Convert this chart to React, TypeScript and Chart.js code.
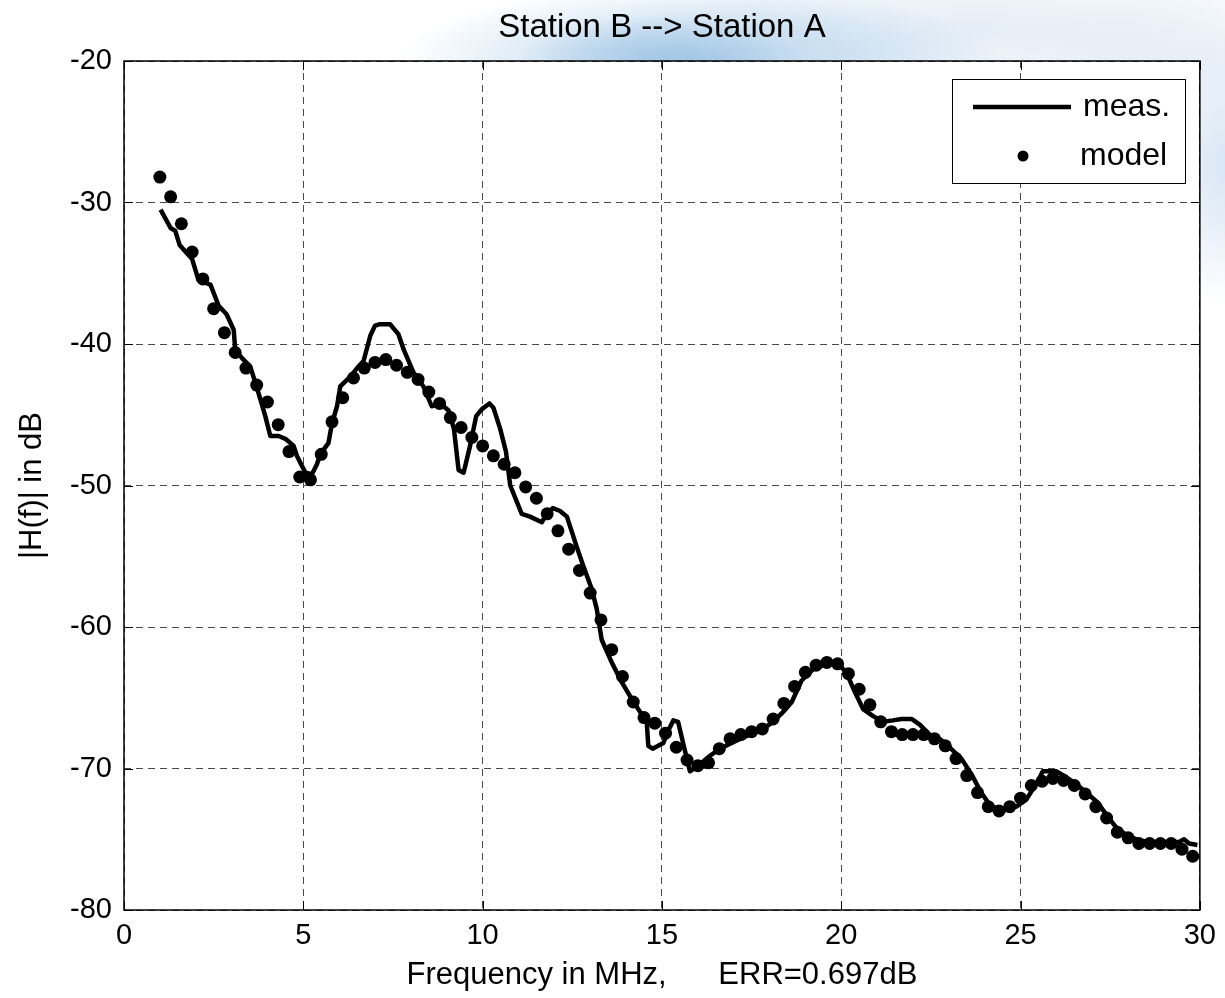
import React, { useEffect, useRef } from "react";
import { Chart, registerables } from "chart.js";

Chart.register(...registerables);

const TITLE = "Station B --> Station A";
const X_LABEL = "Frequency in MHz,      ERR=0.697dB";
const Y_LABEL = "|H(f)| in dB";
const LEGEND_LABELS = ["meas.", "model"];
const X_TICKS = [0, 5, 10, 15, 20, 25, 30];
const Y_TICKS = [-80, -70, -60, -50, -40, -30, -20];

const measFreq = [
  1.02, 1.3, 1.43, 1.55, 1.76, 1.9, 2.08, 2.41, 2.64, 2.86, 3.06, 3.1, 3.29, 3.52, 3.66, 3.8, 3.94, 4.08,
  4.31, 4.5, 4.73, 4.82, 4.96, 5.06, 5.24, 5.38, 5.47, 5.7, 5.8, 5.94, 6.03, 6.31, 6.5, 6.68, 6.87, 7.0,
  7.14, 7.42, 7.65, 7.8, 8.07, 8.35, 8.58, 8.82, 9.05, 9.2, 9.33, 9.47, 9.65, 9.82, 9.98, 10.19, 10.3,
  10.49, 10.65, 10.77, 11.09, 11.32, 11.65, 11.74, 11.96, 12.16, 12.35, 12.62, 12.81, 13.04, 13.18, 13.32,
  13.6, 13.88, 14.16, 14.39, 14.57, 14.62, 14.74, 15.04, 15.18, 15.32, 15.45, 15.59, 15.78, 16.01, 16.34,
  16.62, 16.94, 17.27, 17.54, 17.82, 18.1, 18.38, 18.62, 18.89, 19.21, 19.59, 19.91, 20.14, 20.38, 20.61,
  20.89, 21.16, 21.44, 21.68, 21.96, 22.19, 22.46, 22.74, 23.02, 23.35, 23.63, 23.9, 24.15, 24.51, 24.88,
  25.16, 25.48, 25.62, 26.0, 26.27, 26.55, 26.83, 27.15, 27.43, 27.71, 28.03, 28.31, 28.68, 29.05, 29.42,
  29.56, 29.7, 29.93,
];
const measDb = [
  -30.5, -31.8, -32.0, -33.0, -33.6, -34.0, -35.5, -35.8, -37.3, -37.9, -39.0, -40.4, -41.0, -41.6, -42.7,
  -43.9, -45.1, -46.5, -46.5, -46.7, -47.2, -47.9, -48.6, -49.1, -49.2, -48.5, -47.8, -47.0, -45.6, -44.4,
  -43.0, -42.3, -41.7, -41.2, -39.4, -38.7, -38.6, -38.6, -39.3, -40.4, -42.0, -43.0, -44.4, -44.2, -44.7,
  -46.0, -48.9, -49.1, -47.2, -45.1, -44.6, -44.2, -44.5, -46.0, -47.6, -50.0, -52.0, -52.2, -52.6, -52.2,
  -51.6, -51.8, -52.2, -54.3, -55.7, -57.3, -58.7, -60.9, -62.5, -63.9, -65.1, -66.0, -66.5, -68.4, -68.6,
  -68.2, -67.3, -66.6, -66.7, -68.2, -70.2, -69.8, -69.1, -68.6, -68.2, -67.8, -67.5, -67.2, -66.7, -66.0,
  -65.3, -63.8, -63.0, -62.6, -62.6, -63.2, -64.6, -65.8, -66.3, -66.7, -66.6, -66.5, -66.5, -66.9, -67.6,
  -67.9, -68.5, -69.3, -70.4, -71.7, -72.6, -73.0, -72.7, -72.2, -70.9, -70.2, -70.2, -70.6, -71.1, -71.7,
  -72.4, -73.4, -74.3, -74.8, -75.1, -75.2, -75.2, -75.2, -75.0, -75.3, -75.4,
];

const modelFreq = [
  1.0, 1.3, 1.6, 1.9, 2.2, 2.5, 2.8, 3.1, 3.4, 3.7,
  4.0, 4.3, 4.6, 4.9, 5.2, 5.5, 5.8, 6.1, 6.4, 6.7,
  7.0, 7.3, 7.6, 7.9, 8.2, 8.5, 8.8, 9.1, 9.4, 9.7,
  10.0, 10.3, 10.6, 10.9, 11.2, 11.5, 11.8, 12.1, 12.4, 12.7,
  13.0, 13.3, 13.6, 13.9, 14.2, 14.5, 14.8, 15.1, 15.4, 15.7,
  16.0, 16.3, 16.6, 16.9, 17.2, 17.5, 17.8, 18.1, 18.4, 18.7,
  19.0, 19.3, 19.6, 19.9, 20.2, 20.5, 20.8, 21.1, 21.4, 21.7,
  22.0, 22.3, 22.6, 22.9, 23.2, 23.5, 23.8, 24.1, 24.4, 24.7,
  25.0, 25.3, 25.6, 25.9, 26.2, 26.5, 26.8, 27.1, 27.4, 27.7,
  28.0, 28.3, 28.6, 28.9, 29.2, 29.5, 29.8,
];
const modelDb = [
  -28.2, -29.6, -31.5, -33.5, -35.4, -37.5, -39.2, -40.6, -41.7, -42.9,
  -44.1, -45.7, -47.6, -49.4, -49.6, -47.8, -45.5, -43.8, -42.4, -41.7,
  -41.3, -41.1, -41.5, -42.0, -42.5, -43.4, -44.2, -45.2, -45.9, -46.6,
  -47.2, -47.9, -48.5, -49.1, -50.1, -50.9, -52.0, -53.2, -54.5, -56.0,
  -57.6, -59.5, -61.6, -63.5, -65.3, -66.4, -66.8, -67.5, -68.5, -69.4,
  -69.8, -69.6, -68.6, -67.9, -67.6, -67.4, -67.2, -66.5, -65.4, -64.2,
  -63.2, -62.7, -62.5, -62.6, -63.3, -64.4, -65.5, -66.7, -67.4, -67.6,
  -67.6, -67.6, -67.9, -68.4, -69.3, -70.5, -71.7, -72.7, -73.0, -72.7,
  -72.1, -71.2, -70.9, -70.7, -70.85, -71.2, -71.8, -72.7, -73.5, -74.5,
  -74.9, -75.3, -75.3, -75.3, -75.3, -75.7, -76.2,
];

const FONT_FAMILY = '"Liberation Sans", Arial, Helvetica, sans-serif';
const TICK_SIZE = 29;
const LABEL_SIZE = 31;
const TITLE_SIZE = 33;
const LEGEND_SIZE = 32;

const backgroundPlugin = {
  id: "bgCloud",
  beforeDraw(chart: any) {
    const { ctx, width, height, chartArea } = chart;
    ctx.save();
    ctx.fillStyle = "#ffffff";
    ctx.fillRect(0, 0, width, height);
    const blob = (cx: number, cy: number, rx: number, ry: number, rgb: string, a: number) => {
      ctx.save();
      ctx.translate(cx, cy);
      ctx.scale(rx / ry, 1);
      const g = ctx.createRadialGradient(0, 0, 0, 0, 0, ry);
      g.addColorStop(0, `rgba(${rgb},${a})`);
      g.addColorStop(0.5, `rgba(${rgb},${a * 0.55})`);
      g.addColorStop(1, `rgba(${rgb},0)`);
      ctx.fillStyle = g;
      ctx.fillRect(-ry * 6, -ry * 2, ry * 12, ry * 4);
      ctx.restore();
    };
    blob(980, 30, 380, 85, "212,226,241", 0.6);
    blob(700, 60, 300, 75, "160,198,230", 0.75);
    blob(660, 60, 140, 45, "135,182,222", 0.5);
    blob(1225, 165, 80, 140, "195,216,238", 0.65);
    blob(1160, 60, 160, 70, "218,230,243", 0.5);
    ctx.fillStyle = "#ffffff";
    ctx.fillRect(chartArea.left, chartArea.top, chartArea.right - chartArea.left, chartArea.bottom - chartArea.top);
    ctx.restore();
  },
};

const framePlugin = {
  id: "frameLegend",
  afterDraw(chart: any) {
    const { ctx, chartArea: ca, scales } = chart;
    ctx.save();
    ctx.strokeStyle = "#000";
    ctx.lineWidth = 1;
    const tl = 9;
    ctx.beginPath();
    X_TICKS.forEach((v) => {
      const x = Math.round(scales.x.getPixelForValue(v)) + 0.5;
      ctx.moveTo(x, ca.bottom);
      ctx.lineTo(x, ca.bottom - tl);
      ctx.moveTo(x, ca.top);
      ctx.lineTo(x, ca.top + tl);
    });
    Y_TICKS.forEach((v) => {
      const y = Math.round(scales.y.getPixelForValue(v)) + 0.5;
      ctx.moveTo(ca.left, y);
      ctx.lineTo(ca.left + tl, y);
      ctx.moveTo(ca.right, y);
      ctx.lineTo(ca.right - tl, y);
    });
    ctx.stroke();
    ctx.lineWidth = 1.5;
    ctx.strokeRect(ca.left, ca.top, ca.right - ca.left, ca.bottom - ca.top);

    // legend
    const lx = 952.5, ly = 79.5, lw = 233, lh = 104;
    ctx.fillStyle = "#fff";
    ctx.fillRect(lx, ly, lw, lh);
    ctx.lineWidth = 1;
    ctx.strokeStyle = "#000";
    ctx.strokeRect(lx, ly, lw, lh);
    ctx.lineWidth = 4.5;
    ctx.beginPath();
    ctx.moveTo(973, 107);
    ctx.lineTo(1071, 107);
    ctx.stroke();
    ctx.fillStyle = "#000";
    ctx.beginPath();
    ctx.arc(1023, 156, 5.5, 0, Math.PI * 2);
    ctx.fill();
    ctx.font = `${LEGEND_SIZE}px ${FONT_FAMILY}`;
    ctx.textAlign = "left";
    ctx.textBaseline = "middle";
    ctx.fillText(LEGEND_LABELS[0], 1083, 107);
    ctx.fillText(LEGEND_LABELS[1], 1080, 156);
    ctx.restore();
  },
};

export default function App() {
  const canvasRef = useRef<HTMLCanvasElement | null>(null);

  useEffect(() => {
    document.body.style.margin = "0";
    const canvas = canvasRef.current;
    if (!canvas) return;
    const tickFont = { family: FONT_FAMILY, size: TICK_SIZE, weight: "normal" as const };
    const labelFont = { family: FONT_FAMILY, size: LABEL_SIZE, weight: "normal" as const };
    const titleFont = { family: FONT_FAMILY, size: TITLE_SIZE, weight: "normal" as const };
    const chart = new Chart(canvas, {
      type: "line",
      data: {
        datasets: [
          {
            label: LEGEND_LABELS[0],
            data: measFreq.map((f, i) => ({ x: f, y: measDb[i] })),
            borderColor: "#000",
            backgroundColor: "#000",
            borderWidth: 4.5,
            pointRadius: 0,
            tension: 0,
            fill: false,
            borderJoinStyle: "round",
            order: 2,
          },
          {
            label: LEGEND_LABELS[1],
            data: modelFreq.map((f, i) => ({ x: f, y: modelDb[i] })),
            showLine: false,
            borderColor: "#000",
            backgroundColor: "#000",
            pointBackgroundColor: "#000",
            pointBorderWidth: 0,
            pointRadius: 6.5,
            pointStyle: "circle",
            order: 1,
          },
        ],
      },
      options: {
        responsive: false,
        animation: false,
        devicePixelRatio: 1,
        clip: false as any,
        events: [],
        layout: { padding: { left: 0, right: 25, top: 0, bottom: 0 } },
        plugins: {
          legend: { display: false },
          tooltip: { enabled: false },
          title: {
            display: true,
            text: TITLE,
            color: "#000",
            fullSize: false,
            font: titleFont,
            padding: { top: 8, bottom: 13.4 },
          },
        },
        scales: {
          x: {
            type: "linear",
            min: 0,
            max: 30,
            afterBuildTicks: (s: any) => {
              s.ticks = X_TICKS.map((v) => ({ value: v }));
            },
            afterFit: (s: any) => {
              s.height = 88;
            },
            grid: { color: "#4a4a4a", lineWidth: 1, drawTicks: false },
            border: { display: false, dash: [7, 5] },
            ticks: { color: "#000", font: tickFont, padding: 9, maxRotation: 0, autoSkip: false },
            title: { display: true, text: X_LABEL, color: "#000", font: labelFont, padding: { top: 0, bottom: 4 } },
          },
          y: {
            type: "linear",
            min: -80,
            max: -20,
            afterBuildTicks: (s: any) => {
              s.ticks = Y_TICKS.map((v) => ({ value: v }));
            },
            afterFit: (s: any) => {
              s.width = 124;
            },
            grid: { color: "#4a4a4a", lineWidth: 1, drawTicks: false },
            border: { display: false, dash: [7, 5] },
            ticks: { color: "#000", font: tickFont, padding: 12, autoSkip: false },
            title: { display: true, text: Y_LABEL, color: "#000", font: labelFont, padding: { top: 14, bottom: 0 } },
          },
        },
      } as any,
      plugins: [backgroundPlugin, framePlugin],
    });
    return () => chart.destroy();
  }, []);

  return (
    <div style={{ position: "fixed", left: 0, top: 0, width: 1225, height: 998 }}>
      <canvas ref={canvasRef} width={1225} height={998} style={{ display: "block", width: 1225, height: 998 }} />
    </div>
  );
}
